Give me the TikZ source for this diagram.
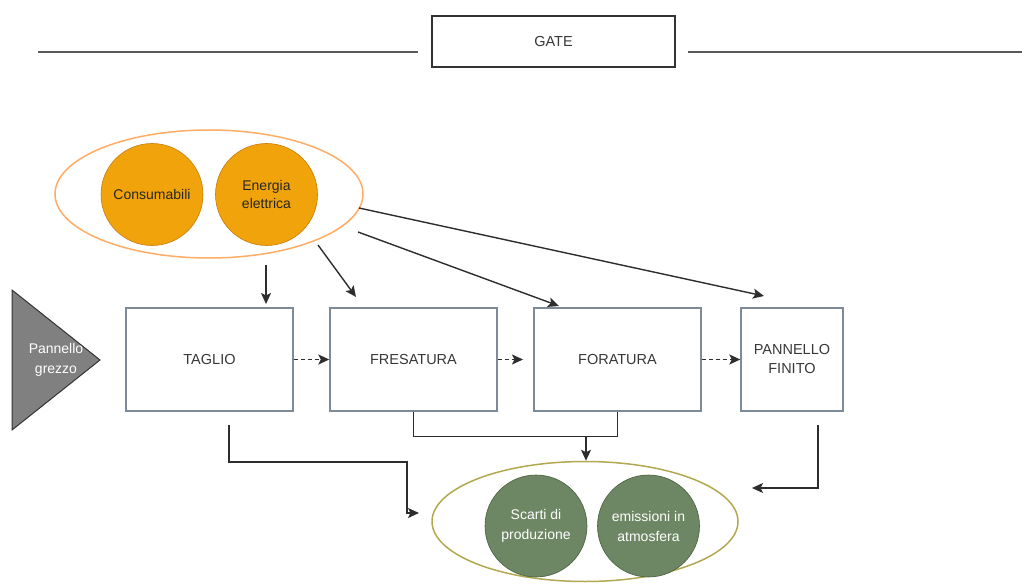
\documentclass[tikz,border=0pt]{standalone}
\usepackage{fontspec}
\setmainfont{Liberation Sans}
\usetikzlibrary{shapes.geometric,arrows.meta,calc}
\definecolor{boxline}{RGB}{125,138,152}
\definecolor{conn}{RGB}{45,45,45}
\definecolor{orfill}{RGB}{240,163,10}
\definecolor{orline}{RGB}{200,125,10}
\definecolor{orell}{RGB}{255,172,100}
\definecolor{grfill}{RGB}{109,135,100}
\definecolor{grline}{RGB}{70,95,60}
\definecolor{grell}{RGB}{178,168,80}
\definecolor{txt}{RGB}{55,55,55}
\tikzset{
  procbox/.style={draw=boxline,line width=1.4pt,minimum height=103pt,inner sep=0pt,font=\fontsize{14.5}{19}\selectfont,text=txt,align=center},
  orcirc/.style={circle,draw=orline,fill=orfill,line width=0.6pt,minimum size=102pt,inner sep=0pt,font=\fontsize{14}{18}\selectfont,text=black!85,align=center},
  grcirc/.style={circle,draw=grline,fill=grfill,line width=0.6pt,minimum size=102pt,inner sep=0pt,font=\fontsize{14}{20}\selectfont,text=white,align=center},
  grp/.style={ellipse,line width=1.5pt,inner sep=0pt},
  arr/.style={draw=conn,line width=1.4pt,-{Stealth[length=11pt,width=10pt,inset=2.5pt]}},
  ln/.style={draw=conn,line width=1.4pt},
  dsh/.style={arr,dash pattern=on 4pt off 3pt}
}
\begin{document}
\begin{tikzpicture}[x=1pt,y=-1pt]
\useasboundingbox (0,0) rectangle (1022,585);
% gate
\node[draw=black!80,line width=1.3pt,minimum width=243pt,minimum height=51pt,inner sep=0pt,font=\fontsize{14.5}{18}\selectfont,text=txt] (gate) at (553.5,41.5) {GATE};
\coordinate (gl) at (38,52);
\coordinate (gr) at (1022,52);
\draw[draw=black!65,line width=1.6pt] (gl) -- (gl -| {418,0});
\draw[draw=black!65,line width=1.6pt] (gr -| {688,0}) -- (gr);
% inputs
\node[grp,draw=orell,minimum width=308pt,minimum height=128pt] (inp) at (209,194) {};
\node[orcirc] (cons) at (152,194.5) {Consumabili};
\node[orcirc] (ener) at (266.5,194.5) {Energia\\elettrica};
% raw panel
\draw[draw=black!80,fill=black!50,line width=1pt] (12,290) -- (100,360) -- (12,430) -- cycle;
\node[font=\fontsize{14}{20}\selectfont,text=white,align=center] (raw) at (56,360) {Pannello\\grezzo};
% process boxes
\node[procbox,minimum width=167pt] (tag) at (209.5,359.5) {TAGLIO};
\node[procbox,minimum width=167pt] (fres) at (413.5,359.5) {FRESATURA};
\node[procbox,minimum width=167pt] (for) at (617.5,359.5) {FORATURA};
\node[procbox,minimum width=102pt] (fin) at (792,359.5) {PANNELLO\\FINITO};
% dashed flow
\draw[dsh] (tag.east) -- (fres.west);
\coordinate (f2) at (523,359.5);
\draw[dsh] (fres.east) -- (f2);
\draw[dsh] (for.east) -- (fin.west);
% input arrows
\coordinate (s1) at (266,265);
\coordinate (e1) at (266,304);
\coordinate (s2) at (318,245);
\coordinate (e2) at (356,297);
\coordinate (s3) at (358,232);
\coordinate (e3) at (559,306);
\coordinate (s4) at (359,208);
\coordinate (e4) at (764,296);
\draw[arr] (s1) -- (e1);
\draw[arr] (s2) -- (e2);
\draw[arr] (s3) -- (e3);
\draw[arr] (s4) -- (e4);
% outputs
\node[grp,draw=grell,minimum width=306pt,minimum height=120pt] (out) at (585,521.5) {};
\node[grcirc] (scar) at (536,526) {Scarti di\\produzione};
\node[grcirc] (emis) at (648.5,526) {emissioni in\\atmosfera};
% output connectors
\coordinate (t1) at (229,425);
\coordinate (t2) at (419,513);
\draw[arr] (t1) -- (229,462) -- (407,462) -- (407,513) -- (t2);
\draw[ln] (fres.south) -- ++(0,25) -| (for.south);
\coordinate (m1) at (586,436);
\draw[arr] (m1) -- (m1 |- out.north);
\coordinate (p1) at (818,425);
\coordinate (p2) at (752,488);
\draw[arr] (p1) -- (818,488) -- (p2);
\end{tikzpicture}
\end{document}
